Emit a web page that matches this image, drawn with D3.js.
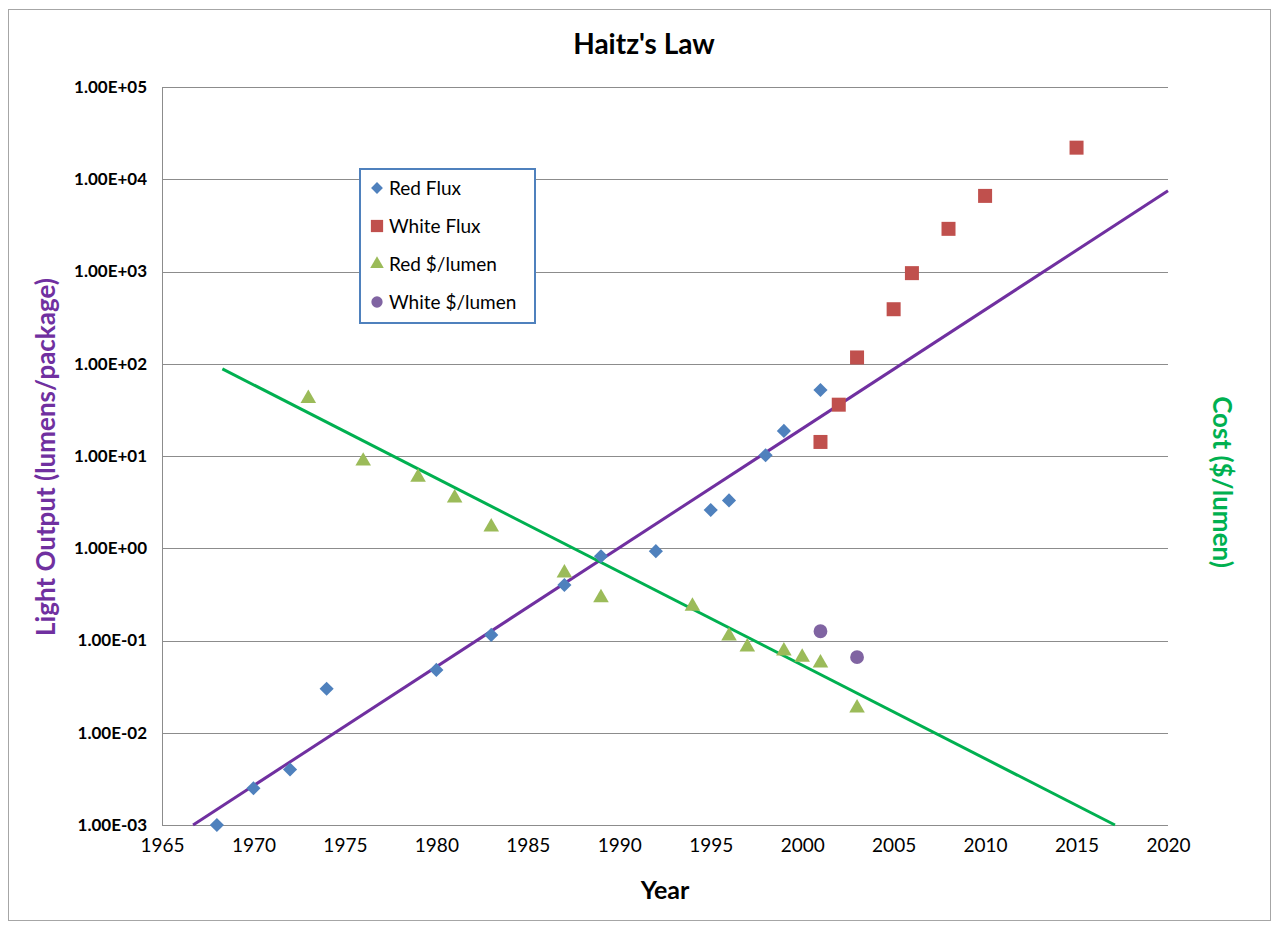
<!DOCTYPE html>
<html>
<head>
<meta charset="utf-8">
<script src="https://cdn.jsdelivr.net/npm/d3@7"></script>
<style>
  body { margin: 0; background: #fff; }
  text { font-family: Lato, "Open Sans", sans-serif; }
</style>
</head>
<body>
<div id="chart"></div>
<script>
// data
var redFluxYears = [1968, 1970, 1972, 1974, 1980, 1983, 1987, 1989, 1992, 1995, 1996, 1998, 1999, 2001];
var redFluxValues = [0.001, 0.0025, 0.004, 0.03, 0.048, 0.115, 0.4, 0.82, 0.93, 2.6, 3.3, 10.2, 18.7, 52];

var whiteFluxYears = [2001, 2002, 2003, 2005, 2006, 2008, 2010, 2015];
var whiteFluxValues = [14.2, 36, 117, 390, 960, 2900, 6600, 22000];

var redCostYears = [1973, 1976, 1979, 1981, 1983, 1987, 1989, 1994, 1996, 1997, 1999, 2000, 2001, 2003];
var redCostValues = [42, 8.8, 5.9, 3.5, 1.7, 0.54, 0.29, 0.235, 0.112, 0.085, 0.077, 0.066, 0.057, 0.0185];

var whiteCostYears = [2001, 2003];
var whiteCostValues = [0.126, 0.066];

// trend lines (end points)
var fluxTrend = [[1966.7, 0.001], [2020, 7500]];
var costTrend = [[1968.3, 88], [2017.1, 0.001]];

var xTicks = [1965, 1970, 1975, 1980, 1985, 1990, 1995, 2000, 2005, 2010, 2015, 2020];
var yTicks = [1e-3, 1e-2, 1e-1, 1e0, 1e1, 1e2, 1e3, 1e4, 1e5];
var yTickLabels = ["1.00E-03", "1.00E-02", "1.00E-01", "1.00E+00", "1.00E+01", "1.00E+02", "1.00E+03", "1.00E+04", "1.00E+05"];

var W = 1277, H = 927;
var margin = {top: 87, right: 109, bottom: 102, left: 162};
var w = W - margin.left - margin.right,
    h = H - margin.top - margin.bottom;

var svg = d3.select("#chart").append("svg")
  .attr("width", W)
  .attr("height", H);

// outer chart frame
svg.append("rect")
  .attr("x", 8.5).attr("y", 9.5)
  .attr("width", 1262).attr("height", 911)
  .attr("fill", "none")
  .attr("stroke", "#a6a6a6")
  .attr("stroke-width", 1);

svg.append("text")
  .attr("x", 644).attr("y", 54)
  .attr("text-anchor", "middle")
  .style("font-size", "28px")
  .style("font-weight", "bold")
  .text("Haitz's Law");

var g = svg.append("g")
  .attr("transform", `translate(${margin.left},${margin.top})`);

var x = d3.scaleLinear().domain([1965, 2020]).range([0, w]);
var y = d3.scaleLog().domain([1e-3, 1e5]).range([h, 0]);

// gridlines
g.selectAll(".grid")
  .data(yTicks)
  .enter().append("line")
  .attr("class", "grid")
  .attr("x1", 0).attr("x2", w)
  .attr("y1", d => Math.round(y(d)) + 0.5)
  .attr("y2", d => Math.round(y(d)) + 0.5)
  .attr("stroke", "#8c8c8c")
  .attr("stroke-width", 1);

g.append("line")
  .attr("x1", 0.5).attr("x2", 0.5)
  .attr("y1", 0).attr("y2", h)
  .attr("stroke", "#8c8c8c");

// axes
var yAxis = g.append("g")
  .call(d3.axisLeft(y).tickValues(yTicks).tickFormat((d, i) => yTickLabels[i]).tickSize(0).tickPadding(15));
yAxis.select(".domain").remove();
yAxis.selectAll("text")
  .style("font-family", "Lato, 'Open Sans', sans-serif")
  .style("font-size", "17px")
  .style("font-weight", "bold")
  .attr("fill", "#000");

var xAxis = g.append("g")
  .attr("transform", `translate(0,${h})`)
  .call(d3.axisBottom(x).tickValues(xTicks).tickFormat(d3.format("d")).tickSize(0).tickPadding(14));
xAxis.select(".domain").remove();
xAxis.selectAll("text")
  .style("font-family", "Lato, 'Open Sans', sans-serif")
  .style("font-size", "19px")
  .attr("fill", "#000");

// axis titles
svg.append("text")
  .attr("x", 665).attr("y", 899)
  .attr("text-anchor", "middle")
  .style("font-size", "25px")
  .style("font-weight", "bold")
  .text("Year");

svg.append("text")
  .attr("transform", "translate(55,457) rotate(-90)")
  .attr("text-anchor", "middle")
  .attr("fill", "#7030a0")
  .style("font-size", "26px")
  .style("font-weight", "bold")
  .text("Light Output (lumens/package)");

svg.append("text")
  .attr("transform", "translate(1213,482) rotate(90)")
  .attr("text-anchor", "middle")
  .attr("fill", "#00b050")
  .style("font-size", "26px")
  .style("font-weight", "bold")
  .text("Cost ($/lumen)");

// trend lines
var line = d3.line().x(d => x(d[0])).y(d => y(d[1]));
g.append("path").datum(fluxTrend)
  .attr("d", line).attr("fill", "none")
  .attr("stroke", "#7030a0").attr("stroke-width", 3);
g.append("path").datum(costTrend)
  .attr("d", line).attr("fill", "none")
  .attr("stroke", "#00b050").attr("stroke-width", 3);

// markers
function pts(years, vals) { return years.map((yr, i) => [yr, vals[i]]); }

var diamond = d3.symbol().type(d3.symbolSquare).size(100);
var square = d3.symbol().type(d3.symbolSquare).size(196);
var triangle = d3.symbol().type(d3.symbolTriangle).size(105);
var circle = d3.symbol().type(d3.symbolCircle).size(150);

function drawSeries(data, sym, color, rot) {
  g.append("g").selectAll("path")
    .data(data)
    .enter().append("path")
    .attr("d", sym)
    .attr("transform", d => `translate(${x(d[0])},${y(d[1])})` + (rot ? " rotate(45)" : ""))
    .attr("fill", color);
}

drawSeries(pts(redFluxYears, redFluxValues), diamond, "#4f81bd", true);
drawSeries(pts(whiteFluxYears, whiteFluxValues), square, "#c0504d", false);
drawSeries(pts(redCostYears, redCostValues), triangle, "#9bbb59", false);
drawSeries(pts(whiteCostYears, whiteCostValues), circle, "#8064a2", false);

// legend
var legendNames = ["Red Flux", "White Flux", "Red $/lumen", "White $/lumen"];
var legendColors = ["#4f81bd", "#c0504d", "#9bbb59", "#8064a2"];
var legendSyms = [d3.symbol().type(d3.symbolSquare).size(70), d3.symbol().type(d3.symbolSquare).size(150),
                  d3.symbol().type(d3.symbolTriangle).size(80), d3.symbol().type(d3.symbolCircle).size(100)];

var legend = svg.append("g").attr("transform", "translate(360,169)");
legend.append("rect")
  .attr("width", 175).attr("height", 154)
  .attr("fill", "#fff")
  .attr("stroke", "#4f81bd")
  .attr("stroke-width", 2);

var item = legend.selectAll(".item")
  .data(legendNames)
  .enter().append("g")
  .attr("class", "item")
  .attr("transform", (d, i) => `translate(0,${19 + i * 38})`);

item.append("path")
  .attr("d", (d, i) => legendSyms[i]())
  .attr("transform", (d, i) => "translate(17,0)" + (i === 0 ? " rotate(45)" : ""))
  .attr("fill", (d, i) => legendColors[i]);

item.append("text")
  .attr("x", 29).attr("y", 6.5)
  .style("font-size", "19px")
  .text(d => d);
</script>
</body>
</html>
